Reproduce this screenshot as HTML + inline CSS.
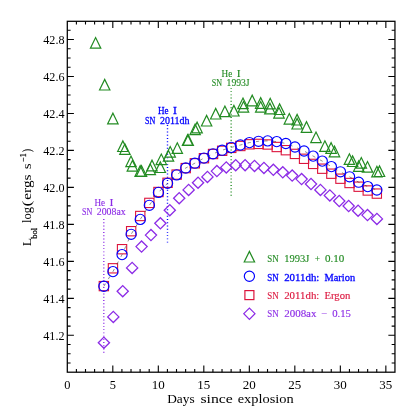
<!DOCTYPE html>
<html><head><meta charset="utf-8"><title>Bolometric light curves</title>
<style>html,body{margin:0;padding:0;background:#fff;}body{width:415px;height:415px;overflow:hidden;}svg{display:block;will-change:transform;}text{font-family:"Liberation Serif",serif;}</style></head><body>
<svg width="415" height="415" viewBox="0 0 415 415">
<rect x="0" y="0" width="415" height="415" fill="#ffffff"/>
<g stroke="#000" stroke-width="1.1" fill="none">
<path d="M76.40 372.20V368.90M76.40 21.30V24.60"/>
<path d="M85.50 372.20V368.90M85.50 21.30V24.60"/>
<path d="M94.60 372.20V368.90M94.60 21.30V24.60"/>
<path d="M103.71 372.20V368.90M103.71 21.30V24.60"/>
<path d="M112.81 372.20V365.60M112.81 21.30V27.90"/>
<path d="M121.91 372.20V368.90M121.91 21.30V24.60"/>
<path d="M131.01 372.20V368.90M131.01 21.30V24.60"/>
<path d="M140.11 372.20V368.90M140.11 21.30V24.60"/>
<path d="M149.21 372.20V368.90M149.21 21.30V24.60"/>
<path d="M158.31 372.20V365.60M158.31 21.30V27.90"/>
<path d="M167.42 372.20V368.90M167.42 21.30V24.60"/>
<path d="M176.52 372.20V368.90M176.52 21.30V24.60"/>
<path d="M185.62 372.20V368.90M185.62 21.30V24.60"/>
<path d="M194.72 372.20V368.90M194.72 21.30V24.60"/>
<path d="M203.82 372.20V365.60M203.82 21.30V27.90"/>
<path d="M212.92 372.20V368.90M212.92 21.30V24.60"/>
<path d="M222.02 372.20V368.90M222.02 21.30V24.60"/>
<path d="M231.12 372.20V368.90M231.12 21.30V24.60"/>
<path d="M240.23 372.20V368.90M240.23 21.30V24.60"/>
<path d="M249.33 372.20V365.60M249.33 21.30V27.90"/>
<path d="M258.43 372.20V368.90M258.43 21.30V24.60"/>
<path d="M267.53 372.20V368.90M267.53 21.30V24.60"/>
<path d="M276.63 372.20V368.90M276.63 21.30V24.60"/>
<path d="M285.73 372.20V368.90M285.73 21.30V24.60"/>
<path d="M294.83 372.20V365.60M294.83 21.30V27.90"/>
<path d="M303.94 372.20V368.90M303.94 21.30V24.60"/>
<path d="M313.04 372.20V368.90M313.04 21.30V24.60"/>
<path d="M322.14 372.20V368.90M322.14 21.30V24.60"/>
<path d="M331.24 372.20V368.90M331.24 21.30V24.60"/>
<path d="M340.34 372.20V365.60M340.34 21.30V27.90"/>
<path d="M349.44 372.20V368.90M349.44 21.30V24.60"/>
<path d="M358.54 372.20V368.90M358.54 21.30V24.60"/>
<path d="M367.65 372.20V368.90M367.65 21.30V24.60"/>
<path d="M376.75 372.20V368.90M376.75 21.30V24.60"/>
<path d="M385.85 372.20V365.60M385.85 21.30V27.90"/>
<path d="M67.30 363.06H70.60M394.95 363.06H391.65"/>
<path d="M67.30 353.81H70.60M394.95 353.81H391.65"/>
<path d="M67.30 344.57H70.60M394.95 344.57H391.65"/>
<path d="M67.30 335.32H73.90M394.95 335.32H388.35"/>
<path d="M67.30 326.08H70.60M394.95 326.08H391.65"/>
<path d="M67.30 316.83H70.60M394.95 316.83H391.65"/>
<path d="M67.30 307.58H70.60M394.95 307.58H391.65"/>
<path d="M67.30 298.34H73.90M394.95 298.34H388.35"/>
<path d="M67.30 289.09H70.60M394.95 289.09H391.65"/>
<path d="M67.30 279.85H70.60M394.95 279.85H391.65"/>
<path d="M67.30 270.61H70.60M394.95 270.61H391.65"/>
<path d="M67.30 261.36H73.90M394.95 261.36H388.35"/>
<path d="M67.30 252.12H70.60M394.95 252.12H391.65"/>
<path d="M67.30 242.87H70.60M394.95 242.87H391.65"/>
<path d="M67.30 233.62H70.60M394.95 233.62H391.65"/>
<path d="M67.30 224.38H73.90M394.95 224.38H388.35"/>
<path d="M67.30 215.13H70.60M394.95 215.13H391.65"/>
<path d="M67.30 205.89H70.60M394.95 205.89H391.65"/>
<path d="M67.30 196.64H70.60M394.95 196.64H391.65"/>
<path d="M67.30 187.40H73.90M394.95 187.40H388.35"/>
<path d="M67.30 178.16H70.60M394.95 178.16H391.65"/>
<path d="M67.30 168.91H70.60M394.95 168.91H391.65"/>
<path d="M67.30 159.67H70.60M394.95 159.67H391.65"/>
<path d="M67.30 150.42H73.90M394.95 150.42H388.35"/>
<path d="M67.30 141.18H70.60M394.95 141.18H391.65"/>
<path d="M67.30 131.93H70.60M394.95 131.93H391.65"/>
<path d="M67.30 122.68H70.60M394.95 122.68H391.65"/>
<path d="M67.30 113.44H73.90M394.95 113.44H388.35"/>
<path d="M67.30 104.19H70.60M394.95 104.19H391.65"/>
<path d="M67.30 94.95H70.60M394.95 94.95H391.65"/>
<path d="M67.30 85.71H70.60M394.95 85.71H391.65"/>
<path d="M67.30 76.46H73.90M394.95 76.46H388.35"/>
<path d="M67.30 67.22H70.60M394.95 67.22H391.65"/>
<path d="M67.30 57.97H70.60M394.95 57.97H391.65"/>
<path d="M67.30 48.72H70.60M394.95 48.72H391.65"/>
<path d="M67.30 39.48H73.90M394.95 39.48H388.35"/>
<path d="M67.30 30.23H70.60M394.95 30.23H391.65"/>
</g>
<rect x="67.3" y="21.3" width="327.65" height="350.90" fill="none" stroke="#000" stroke-width="1.25"/>
<g font-size="11.5" fill="#000">
<text x="67.30" y="388.7" text-anchor="middle" textLength="6.2" lengthAdjust="spacingAndGlyphs">0</text>
<text x="112.81" y="388.7" text-anchor="middle" textLength="6.2" lengthAdjust="spacingAndGlyphs">5</text>
<text x="158.31" y="388.7" text-anchor="middle" textLength="13.0" lengthAdjust="spacingAndGlyphs">10</text>
<text x="203.82" y="388.7" text-anchor="middle" textLength="13.0" lengthAdjust="spacingAndGlyphs">15</text>
<text x="249.33" y="388.7" text-anchor="middle" textLength="13.0" lengthAdjust="spacingAndGlyphs">20</text>
<text x="294.83" y="388.7" text-anchor="middle" textLength="13.0" lengthAdjust="spacingAndGlyphs">25</text>
<text x="340.34" y="388.7" text-anchor="middle" textLength="13.0" lengthAdjust="spacingAndGlyphs">30</text>
<text x="385.85" y="388.7" text-anchor="middle" textLength="13.0" lengthAdjust="spacingAndGlyphs">35</text>
<text x="64.5" y="339.72" text-anchor="end" textLength="21.2" lengthAdjust="spacingAndGlyphs">41.2</text>
<text x="64.5" y="302.74" text-anchor="end" textLength="21.2" lengthAdjust="spacingAndGlyphs">41.4</text>
<text x="64.5" y="265.76" text-anchor="end" textLength="21.2" lengthAdjust="spacingAndGlyphs">41.6</text>
<text x="64.5" y="228.78" text-anchor="end" textLength="21.2" lengthAdjust="spacingAndGlyphs">41.8</text>
<text x="64.5" y="191.80" text-anchor="end" textLength="21.2" lengthAdjust="spacingAndGlyphs">42.0</text>
<text x="64.5" y="154.82" text-anchor="end" textLength="21.2" lengthAdjust="spacingAndGlyphs">42.2</text>
<text x="64.5" y="117.84" text-anchor="end" textLength="21.2" lengthAdjust="spacingAndGlyphs">42.4</text>
<text x="64.5" y="80.86" text-anchor="end" textLength="21.2" lengthAdjust="spacingAndGlyphs">42.6</text>
<text x="64.5" y="43.88" text-anchor="end" textLength="21.2" lengthAdjust="spacingAndGlyphs">42.8</text>
</g>
<g font-size="12.4" fill="#000">
<text x="167.2" y="402.6" textLength="27.4" lengthAdjust="spacingAndGlyphs">Days</text>
<text x="200.4" y="402.6" textLength="32.4" lengthAdjust="spacingAndGlyphs">since</text>
<text x="237.7" y="402.6" textLength="56" lengthAdjust="spacingAndGlyphs">explosion</text>
</g>
<g transform="translate(31.1,246) rotate(-90)" font-size="12.4" fill="#000">
<text x="-0.2" y="0" textLength="8.3" lengthAdjust="spacingAndGlyphs">L</text>
<text x="7.3" y="6.1" font-size="8.2" stroke="#000" stroke-width="0.25" textLength="10.8" lengthAdjust="spacingAndGlyphs">bol</text>
<text x="23.0" y="0" textLength="16.0" lengthAdjust="spacingAndGlyphs">log</text>
<text x="39.4" y="0" textLength="5.8" lengthAdjust="spacingAndGlyphs">(</text>
<text x="46.3" y="0" textLength="25.2" lengthAdjust="spacingAndGlyphs">ergs</text>
<text x="76.8" y="0" textLength="5.9" lengthAdjust="spacingAndGlyphs">s</text>
<text x="84.2" y="-5.2" font-size="8.2" stroke="#000" stroke-width="0.25" textLength="8.4" lengthAdjust="spacingAndGlyphs">−1</text>
<text x="93.4" y="0" textLength="3.9" lengthAdjust="spacingAndGlyphs">)</text>
</g>
<path d="M231.15 87.90V197.00" stroke="#228b22" stroke-width="1.4" stroke-dasharray="0.95 2.29" fill="none"/>
<path d="M167.50 125.00V243.00" stroke="#0000ff" stroke-width="1.4" stroke-dasharray="0.95 2.29" fill="none"/>
<path d="M103.80 219.00V353.50" stroke="#8c2be6" stroke-width="1.4" stroke-dasharray="0.95 2.29" fill="none"/>
<g stroke="#228b22" stroke-width="1.2" fill="none" stroke-linejoin="miter">
<path d="M90.40 48.15L95.60 37.55L100.80 48.15Z"/>
<path d="M99.50 90.00L104.70 79.40L109.90 90.00Z"/>
<path d="M107.70 123.80L112.90 113.20L118.10 123.80Z"/>
<path d="M117.65 151.50L122.85 140.90L128.05 151.50Z"/>
<path d="M119.70 154.40L124.90 143.80L130.10 154.40Z"/>
<path d="M125.80 166.70L131.00 156.10L136.20 166.70Z"/>
<path d="M127.20 171.10L132.40 160.50L137.60 171.10Z"/>
<path d="M135.00 176.30L140.20 165.70L145.40 176.30Z"/>
<path d="M136.30 176.30L141.50 165.70L146.70 176.30Z"/>
<path d="M145.10 174.70L150.30 164.10L155.50 174.70Z"/>
<path d="M146.80 170.80L152.00 160.20L157.20 170.80Z"/>
<path d="M155.10 172.50L160.30 161.90L165.50 172.50Z"/>
<path d="M156.10 164.60L161.30 154.00L166.50 164.60Z"/>
<path d="M163.30 161.20L168.50 150.60L173.70 161.20Z"/>
<path d="M165.00 157.10L170.20 146.50L175.40 157.10Z"/>
<path d="M172.10 153.40L177.30 142.80L182.50 153.40Z"/>
<path d="M182.40 145.30L187.60 134.70L192.80 145.30Z"/>
<path d="M183.00 145.30L188.20 134.70L193.40 145.30Z"/>
<path d="M189.90 134.70L195.10 124.10L200.30 134.70Z"/>
<path d="M191.90 132.80L197.10 122.20L202.30 132.80Z"/>
<path d="M201.40 126.00L206.60 115.40L211.80 126.00Z"/>
<path d="M210.50 119.00L215.70 108.40L220.90 119.00Z"/>
<path d="M219.70 116.70L224.90 106.10L230.10 116.70Z"/>
<path d="M228.70 116.00L233.90 105.40L239.10 116.00Z"/>
<path d="M237.80 108.60L243.00 98.00L248.20 108.60Z"/>
<path d="M238.30 112.10L243.50 101.50L248.70 112.10Z"/>
<path d="M247.00 105.80L252.20 95.20L257.40 105.80Z"/>
<path d="M255.50 108.30L260.70 97.70L265.90 108.30Z"/>
<path d="M255.50 112.20L260.70 101.60L265.90 112.20Z"/>
<path d="M265.00 108.90L270.20 98.30L275.40 108.90Z"/>
<path d="M264.70 113.80L269.90 103.20L275.10 113.80Z"/>
<path d="M274.40 114.50L279.60 103.90L284.80 114.50Z"/>
<path d="M273.80 118.10L279.00 107.50L284.20 118.10Z"/>
<path d="M284.10 124.20L289.30 113.60L294.50 124.20Z"/>
<path d="M291.90 125.00L297.10 114.40L302.30 125.00Z"/>
<path d="M291.90 129.00L297.10 118.40L302.30 129.00Z"/>
<path d="M301.30 132.30L306.50 121.70L311.70 132.30Z"/>
<path d="M310.80 142.60L316.00 132.00L321.20 142.60Z"/>
<path d="M319.70 151.40L324.90 140.80L330.10 151.40Z"/>
<path d="M325.90 153.30L331.10 142.70L336.30 153.30Z"/>
<path d="M329.30 156.80L334.50 146.20L339.70 156.80Z"/>
<path d="M344.20 164.40L349.40 153.80L354.60 164.40Z"/>
<path d="M347.40 166.50L352.60 155.90L357.80 166.50Z"/>
<path d="M353.50 171.40L358.70 160.80L363.90 171.40Z"/>
<path d="M356.10 168.20L361.30 157.60L366.50 168.20Z"/>
<path d="M362.30 172.20L367.50 161.60L372.70 172.20Z"/>
<path d="M371.70 176.90L376.90 166.30L382.10 176.90Z"/>
<path d="M374.30 176.50L379.50 165.90L384.70 176.50Z"/>
</g>
<g stroke="#dc143c" stroke-width="1.1" fill="none">
<rect x="99.20" y="281.45" width="9.3" height="9.3"/>
<rect x="108.30" y="263.65" width="9.3" height="9.3"/>
<rect x="117.40" y="244.55" width="9.3" height="9.3"/>
<rect x="126.50" y="226.55" width="9.3" height="9.3"/>
<rect x="135.60" y="211.35" width="9.3" height="9.3"/>
<rect x="144.70" y="198.25" width="9.3" height="9.3"/>
<rect x="153.80" y="187.35" width="9.3" height="9.3"/>
<rect x="162.90" y="178.15" width="9.3" height="9.3"/>
<rect x="172.00" y="169.95" width="9.3" height="9.3"/>
<rect x="181.10" y="163.45" width="9.3" height="9.3"/>
<rect x="190.20" y="158.65" width="9.3" height="9.3"/>
<rect x="199.30" y="153.55" width="9.3" height="9.3"/>
<rect x="208.40" y="149.35" width="9.3" height="9.3"/>
<rect x="217.50" y="146.15" width="9.3" height="9.3"/>
<rect x="226.60" y="143.25" width="9.3" height="9.3"/>
<rect x="235.70" y="141.35" width="9.3" height="9.3"/>
<rect x="244.80" y="139.65" width="9.3" height="9.3"/>
<rect x="253.90" y="139.25" width="9.3" height="9.3"/>
<rect x="263.00" y="139.85" width="9.3" height="9.3"/>
<rect x="272.10" y="142.35" width="9.3" height="9.3"/>
<rect x="281.20" y="145.55" width="9.3" height="9.3"/>
<rect x="290.30" y="149.25" width="9.3" height="9.3"/>
<rect x="299.40" y="154.15" width="9.3" height="9.3"/>
<rect x="308.50" y="159.25" width="9.3" height="9.3"/>
<rect x="317.60" y="164.05" width="9.3" height="9.3"/>
<rect x="326.70" y="169.05" width="9.3" height="9.3"/>
<rect x="335.80" y="174.05" width="9.3" height="9.3"/>
<rect x="344.90" y="178.35" width="9.3" height="9.3"/>
<rect x="354.00" y="182.05" width="9.3" height="9.3"/>
<rect x="363.10" y="185.85" width="9.3" height="9.3"/>
<rect x="372.20" y="188.95" width="9.3" height="9.3"/>
</g>
<polyline points="103.85,286.30 112.95,271.60 122.05,254.60 131.15,234.30 140.25,219.40 149.35,205.30 158.45,192.40 167.55,183.30 176.65,174.90 185.75,168.00 194.85,163.20 203.95,158.10 213.05,153.80 222.15,150.20 231.25,147.40 240.35,145.00 249.45,142.60 258.55,141.30 267.65,140.90 276.75,141.60 285.85,143.50 294.95,147.00 304.05,151.00 313.15,156.10 322.25,161.10 331.35,166.60 340.45,171.80 349.55,176.80 358.65,182.20 367.75,186.60 376.85,190.00" fill="none" stroke="#333" stroke-width="0.55" stroke-dasharray="3.2 5.3"/>
<g stroke="#0000ff" stroke-width="1.15" fill="none">
<circle cx="103.85" cy="286.30" r="5.1"/>
<circle cx="112.95" cy="271.60" r="5.1"/>
<circle cx="122.05" cy="254.60" r="5.1"/>
<circle cx="131.15" cy="234.30" r="5.1"/>
<circle cx="140.25" cy="219.40" r="5.1"/>
<circle cx="149.35" cy="205.30" r="5.1"/>
<circle cx="158.45" cy="192.40" r="5.1"/>
<circle cx="167.55" cy="183.30" r="5.1"/>
<circle cx="176.65" cy="174.90" r="5.1"/>
<circle cx="185.75" cy="168.00" r="5.1"/>
<circle cx="194.85" cy="163.20" r="5.1"/>
<circle cx="203.95" cy="158.10" r="5.1"/>
<circle cx="213.05" cy="153.80" r="5.1"/>
<circle cx="222.15" cy="150.20" r="5.1"/>
<circle cx="231.25" cy="147.40" r="5.1"/>
<circle cx="240.35" cy="145.00" r="5.1"/>
<circle cx="249.45" cy="142.60" r="5.1"/>
<circle cx="258.55" cy="141.30" r="5.1"/>
<circle cx="267.65" cy="140.90" r="5.1"/>
<circle cx="276.75" cy="141.60" r="5.1"/>
<circle cx="285.85" cy="143.50" r="5.1"/>
<circle cx="294.95" cy="147.00" r="5.1"/>
<circle cx="304.05" cy="151.00" r="5.1"/>
<circle cx="313.15" cy="156.10" r="5.1"/>
<circle cx="322.25" cy="161.10" r="5.1"/>
<circle cx="331.35" cy="166.60" r="5.1"/>
<circle cx="340.45" cy="171.80" r="5.1"/>
<circle cx="349.55" cy="176.80" r="5.1"/>
<circle cx="358.65" cy="182.20" r="5.1"/>
<circle cx="367.75" cy="186.60" r="5.1"/>
<circle cx="376.85" cy="190.00" r="5.1"/>
</g>
<g stroke="#8c2be6" stroke-width="1.3" fill="none">
<path d="M98.30 342.70L103.90 337.10L109.50 342.70L103.90 348.30Z"/>
<path d="M107.71 316.90L113.31 311.30L118.91 316.90L113.31 322.50Z"/>
<path d="M117.13 291.20L122.73 285.60L128.33 291.20L122.73 296.80Z"/>
<path d="M126.54 267.90L132.14 262.30L137.74 267.90L132.14 273.50Z"/>
<path d="M135.96 246.60L141.56 241.00L147.16 246.60L141.56 252.20Z"/>
<path d="M145.37 235.10L150.97 229.50L156.57 235.10L150.97 240.70Z"/>
<path d="M154.78 223.30L160.38 217.70L165.98 223.30L160.38 228.90Z"/>
<path d="M164.20 210.20L169.80 204.60L175.40 210.20L169.80 215.80Z"/>
<path d="M173.61 198.20L179.21 192.60L184.81 198.20L179.21 203.80Z"/>
<path d="M183.03 189.90L188.63 184.30L194.23 189.90L188.63 195.50Z"/>
<path d="M192.44 182.70L198.04 177.10L203.64 182.70L198.04 188.30Z"/>
<path d="M201.85 176.90L207.45 171.30L213.05 176.90L207.45 182.50Z"/>
<path d="M211.27 171.10L216.87 165.50L222.47 171.10L216.87 176.70Z"/>
<path d="M220.68 167.40L226.28 161.80L231.88 167.40L226.28 173.00Z"/>
<path d="M230.10 165.20L235.70 159.60L241.30 165.20L235.70 170.80Z"/>
<path d="M239.51 165.20L245.11 159.60L250.71 165.20L245.11 170.80Z"/>
<path d="M248.92 165.90L254.52 160.30L260.12 165.90L254.52 171.50Z"/>
<path d="M258.34 167.90L263.94 162.30L269.54 167.90L263.94 173.50Z"/>
<path d="M267.75 169.80L273.35 164.20L278.95 169.80L273.35 175.40Z"/>
<path d="M277.17 172.30L282.77 166.70L288.37 172.30L282.77 177.90Z"/>
<path d="M286.58 175.60L292.18 170.00L297.78 175.60L292.18 181.20Z"/>
<path d="M295.99 179.10L301.59 173.50L307.19 179.10L301.59 184.70Z"/>
<path d="M305.41 184.00L311.01 178.40L316.61 184.00L311.01 189.60Z"/>
<path d="M314.82 189.90L320.42 184.30L326.02 189.90L320.42 195.50Z"/>
<path d="M324.24 195.40L329.84 189.80L335.44 195.40L329.84 201.00Z"/>
<path d="M333.65 201.00L339.25 195.40L344.85 201.00L339.25 206.60Z"/>
<path d="M343.06 206.00L348.66 200.40L354.26 206.00L348.66 211.60Z"/>
<path d="M352.48 210.70L358.08 205.10L363.68 210.70L358.08 216.30Z"/>
<path d="M361.89 215.10L367.49 209.50L373.09 215.10L367.49 220.70Z"/>
<path d="M371.31 218.90L376.91 213.30L382.51 218.90L376.91 224.50Z"/>
</g>
<text x="221.6" y="76.6" font-size="9.6" fill="#228b22" stroke="#228b22" stroke-width="0.12" textLength="10.7" lengthAdjust="spacingAndGlyphs">He</text>
<text x="236.7" y="76.6" font-size="9.6" fill="#228b22" stroke="#228b22" stroke-width="0.12" textLength="3.9" lengthAdjust="spacingAndGlyphs">I</text>
<text x="211.8" y="86.1" font-size="9.6" fill="#228b22" stroke="#228b22" stroke-width="0.12" textLength="10.3" lengthAdjust="spacingAndGlyphs">SN</text>
<text x="226.6" y="86.1" font-size="9.6" fill="#228b22" stroke="#228b22" stroke-width="0.12" textLength="23.0" lengthAdjust="spacingAndGlyphs">1993J</text>
<text x="158.0" y="114.2" font-size="9.6" fill="#0000ff" stroke="#0000ff" stroke-width="0.27" textLength="10.6" lengthAdjust="spacingAndGlyphs">He</text>
<text x="173.1" y="114.2" font-size="9.6" fill="#0000ff" stroke="#0000ff" stroke-width="0.27" textLength="3.9" lengthAdjust="spacingAndGlyphs">I</text>
<text x="145.0" y="123.7" font-size="9.6" fill="#0000ff" stroke="#0000ff" stroke-width="0.27" textLength="10.3" lengthAdjust="spacingAndGlyphs">SN</text>
<text x="160.0" y="123.7" font-size="9.6" fill="#0000ff" stroke="#0000ff" stroke-width="0.27" textLength="29.5" lengthAdjust="spacingAndGlyphs">2011dh</text>
<text x="94.5" y="205.5" font-size="9.6" fill="#8c2be6" stroke="#8c2be6" stroke-width="0.12" textLength="10.6" lengthAdjust="spacingAndGlyphs">He</text>
<text x="109.5" y="205.5" font-size="9.6" fill="#8c2be6" stroke="#8c2be6" stroke-width="0.12" textLength="4.0" lengthAdjust="spacingAndGlyphs">I</text>
<text x="82.1" y="215.4" font-size="9.6" fill="#8c2be6" stroke="#8c2be6" stroke-width="0.12" textLength="10.3" lengthAdjust="spacingAndGlyphs">SN</text>
<text x="96.8" y="215.4" font-size="9.6" fill="#8c2be6" stroke="#8c2be6" stroke-width="0.12" textLength="28.9" lengthAdjust="spacingAndGlyphs">2008ax</text>
<path d="M244.20 262.00L249.40 251.40L254.60 262.00Z" stroke="#228b22" stroke-width="1.2" fill="none"/>
<circle cx="249.4" cy="276.3" r="5.1" stroke="#0000ff" stroke-width="1.15" fill="none"/>
<rect x="244.9" y="290.6" width="9" height="9" stroke="#dc143c" stroke-width="1.2" fill="none"/>
<path d="M243.80 313.70L249.40 308.10L255.00 313.70L249.40 319.30Z" stroke="#8c2be6" stroke-width="1.2" fill="none"/>
<text x="267.3" y="262.0" font-size="9.6" fill="#228b22" stroke="#228b22" stroke-width="0.12" textLength="11.4" lengthAdjust="spacingAndGlyphs">SN</text>
<text x="284.2" y="262.0" font-size="9.6" fill="#228b22" stroke="#228b22" stroke-width="0.12" textLength="25.1" lengthAdjust="spacingAndGlyphs">1993J</text>
<text x="314.8" y="262.0" font-size="9.6" fill="#228b22" stroke="#228b22" stroke-width="0.12" textLength="5.3" lengthAdjust="spacingAndGlyphs">+</text>
<text x="324.9" y="262.0" font-size="9.6" fill="#228b22" stroke="#228b22" stroke-width="0.12" textLength="19.3" lengthAdjust="spacingAndGlyphs">0.10</text>
<text x="267.3" y="280.5" font-size="9.6" fill="#0000ff" stroke="#0000ff" stroke-width="0.27" textLength="11.4" lengthAdjust="spacingAndGlyphs">SN</text>
<text x="284.2" y="280.5" font-size="9.6" fill="#0000ff" stroke="#0000ff" stroke-width="0.27" textLength="35.2" lengthAdjust="spacingAndGlyphs">2011dh:</text>
<text x="324.5" y="280.5" font-size="9.6" fill="#0000ff" stroke="#0000ff" stroke-width="0.27" textLength="30.6" lengthAdjust="spacingAndGlyphs">Marion</text>
<text x="267.3" y="298.8" font-size="9.6" fill="#dc143c" stroke="#dc143c" stroke-width="0.12" textLength="11.4" lengthAdjust="spacingAndGlyphs">SN</text>
<text x="284.2" y="298.8" font-size="9.6" fill="#dc143c" stroke="#dc143c" stroke-width="0.12" textLength="35.2" lengthAdjust="spacingAndGlyphs">2011dh:</text>
<text x="324.5" y="298.8" font-size="9.6" fill="#dc143c" stroke="#dc143c" stroke-width="0.12" textLength="25.8" lengthAdjust="spacingAndGlyphs">Ergon</text>
<text x="267.3" y="317.0" font-size="9.6" fill="#8c2be6" stroke="#8c2be6" stroke-width="0.12" textLength="11.4" lengthAdjust="spacingAndGlyphs">SN</text>
<text x="284.2" y="317.0" font-size="9.6" fill="#8c2be6" stroke="#8c2be6" stroke-width="0.12" textLength="32.3" lengthAdjust="spacingAndGlyphs">2008ax</text>
<text x="321.3" y="317.0" font-size="9.6" fill="#8c2be6" stroke="#8c2be6" stroke-width="0.12" textLength="6.0" lengthAdjust="spacingAndGlyphs">−</text>
<text x="332.2" y="317.0" font-size="9.6" fill="#8c2be6" stroke="#8c2be6" stroke-width="0.12" textLength="18.8" lengthAdjust="spacingAndGlyphs">0.15</text>
</svg></body></html>
